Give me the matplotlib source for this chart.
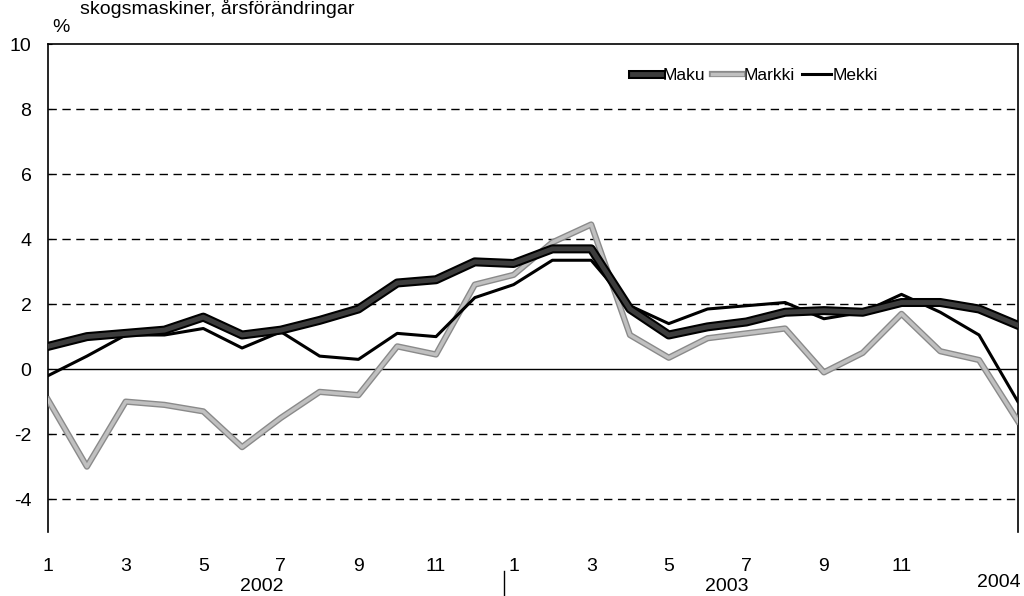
import numpy as np
import matplotlib
matplotlib.use("Agg")
import matplotlib.pyplot as plt
import matplotlib.patheffects as pe

plt.rcParams['font.family'] = ['Liberation Sans Narrow', 'Liberation Sans', 'DejaVu Sans']

# monthly values, Jan 2002 - Feb 2004 (%)
maku = [0.7, 1.0, 1.1, 1.2, 1.6, 1.05, 1.2, 1.5, 1.85, 2.65, 2.75, 3.3,
        3.25, 3.7, 3.7, 1.85, 1.05, 1.3, 1.45, 1.75, 1.8, 1.75, 2.05, 2.05,
        1.85, 1.35]
markki = [-0.95, -3.0, -1.0, -1.1, -1.3, -2.4, -1.5, -0.7, -0.8, 0.7, 0.45, 2.6,
          2.9, 3.9, 4.45, 1.05, 0.35, 0.95, 1.1, 1.25, -0.1, 0.5, 1.7, 0.55,
          0.28, -1.6]
mekki = [-0.2, 0.4, 1.05, 1.05, 1.25, 0.65, 1.15, 0.4, 0.3, 1.1, 1.0, 2.2,
         2.6, 3.35, 3.35, 1.95, 1.4, 1.85, 1.95, 2.05, 1.55, 1.75, 2.3, 1.75,
         1.05, -1.0]
month_labels = ["1", "3", "5", "7", "9", "11", "1", "3", "5", "7", "9", "11"]
years = ["2002", "2003", "2004"]
yticks = [10, 8, 6, 4, 2, 0, -2, -4]

x = np.arange(len(maku))

fig = plt.figure(figsize=(10.24, 5.96), dpi=100)
ax = fig.add_axes([0.047, 0.108, 0.947, 0.818])

# grid lines
for g in [8, 6, 4, 2, -2, -4]:
    ax.axhline(g, color="black", lw=1.0, ls=(0, (6, 4)), zorder=1)
ax.axhline(0, color="black", lw=1.0, zorder=1)

ax.plot(x, markki, color="#c0c0c0", lw=2.5, label="Markki", zorder=3,
        path_effects=[pe.Stroke(linewidth=4.5, foreground="#8a8a8a"), pe.Normal()])
ax.plot(x, mekki, color="black", lw=2.2, label="Mekki", zorder=4)
ax.plot(x, maku, color="#3c3c3c", lw=3.5, label="Maku", zorder=5,
        path_effects=[pe.Stroke(linewidth=6.5, foreground="black"), pe.Normal()])

ax.set_xlim(0, 25)
ax.set_ylim(-5, 10)
ax.set_yticks(yticks)
ax.set_yticklabels([str(v) for v in yticks], fontsize=14)
ax.tick_params(axis="y", length=3, direction="in", pad=12)
ax.set_xticks(np.arange(0, 24, 2))
ax.set_xticklabels(month_labels, fontsize=14)
ax.tick_params(axis="x", length=0, pad=19)
ax.spines["bottom"].set_visible(False)
for s in ["left", "right", "top"]:
    ax.spines[s].set_linewidth(1.2)

# year labels
ax.text(5.5, -6.7, years[0], ha="center", va="center", fontsize=14, clip_on=False)
ax.text(17.5, -6.7, years[1], ha="center", va="center", fontsize=14, clip_on=False)
ax.text(24.5, -6.55, years[2], ha="center", va="center", fontsize=14, clip_on=False)
ax.plot([11.75, 11.75], [-6.2, -7.5], color="black", lw=1, clip_on=False)

handles, labels = ax.get_legend_handles_labels()
order = [2, 0, 1]
fig.legend([handles[i] for i in order], [labels[i] for i in order],
           loc="center", bbox_to_anchor=(755 / 1024, 1 - 75 / 596), ncol=3,
           frameon=False, fontsize=12.5, handlelength=1.7, handletextpad=0.1,
           columnspacing=0.4)

fig.text(52 / 1024, 1 - 32 / 596, "%", fontsize=14, va="baseline")
fig.text(80 / 1024, 1 - 14 / 596, "skogsmaskiner, årsförändringar", fontsize=14, va="baseline")

fig.savefig("out.png", dpi=100)
